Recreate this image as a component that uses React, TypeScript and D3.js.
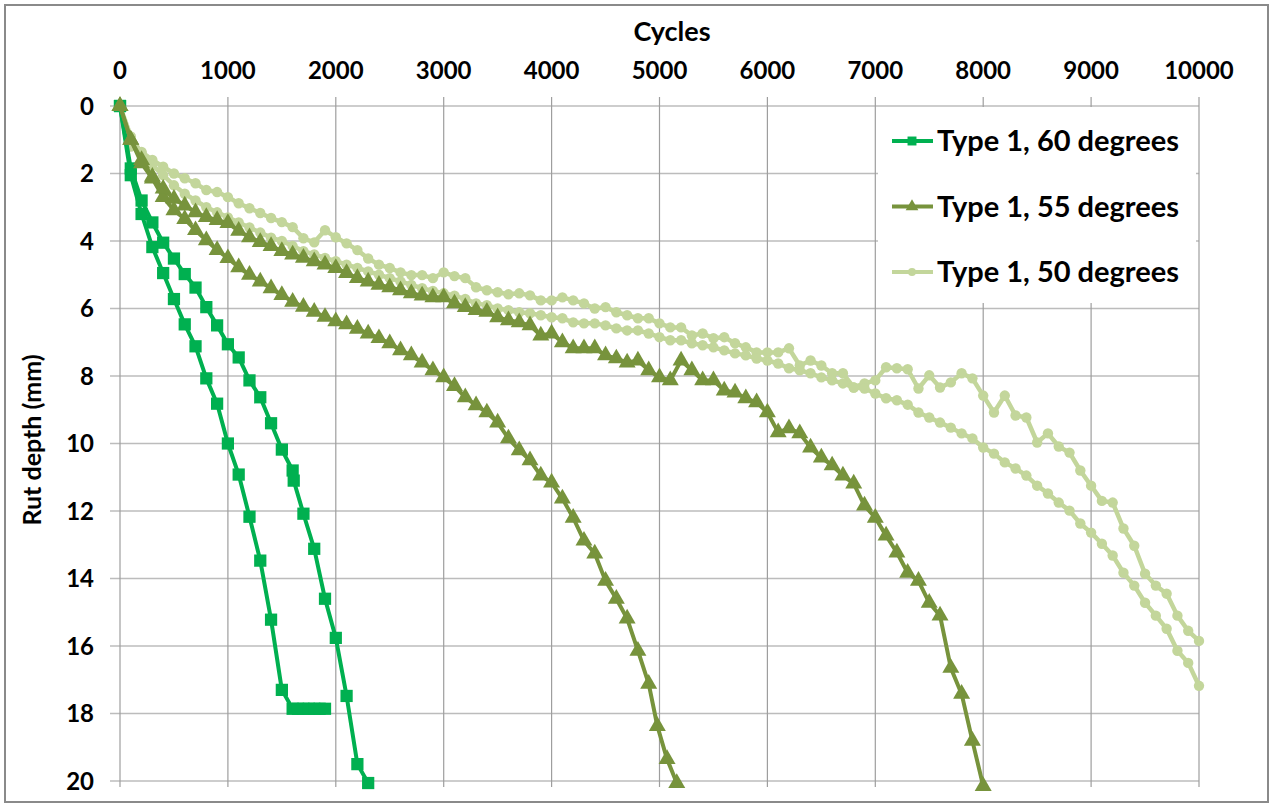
import React, { useEffect, useRef } from 'react';
import * as d3 from 'd3';

// [cycles, rut depth mm]
const type60a: [number, number][] = [
  [0, 0], [100, 2.05], [200, 3.2], [300, 4.18], [400, 4.95], [500, 5.72], [600, 6.47],
  [700, 7.12], [800, 8.07], [900, 8.82], [1000, 10.0], [1100, 10.92], [1200, 12.17],
  [1300, 13.47], [1400, 15.22], [1500, 17.3], [1600, 17.86], [1650, 17.86], [1700, 17.86],
  [1750, 17.86], [1800, 17.86], [1850, 17.86], [1900, 17.86],
];
const type60b: [number, number][] = [
  [0, 0], [100, 1.85], [200, 2.8], [300, 3.45], [400, 4.05], [500, 4.52], [600, 4.98],
  [700, 5.38], [800, 5.96], [900, 6.5], [1000, 7.06], [1100, 7.45], [1200, 8.13],
  [1300, 8.63], [1400, 9.4], [1500, 10.18], [1600, 10.8], [1610, 11.1], [1700, 12.08],
  [1800, 13.12], [1900, 14.6], [2000, 15.76], [2100, 17.48], [2200, 19.5], [2300, 20.06],
];
const type55a: [number, number][] = [
  [0, 0], [100, 1.0], [200, 1.7], [300, 2.15], [400, 2.7], [500, 3.09], [600, 3.35],
  [700, 3.68], [800, 3.98], [900, 4.27], [1000, 4.51], [1100, 4.78], [1200, 5.0],
  [1300, 5.2], [1400, 5.4], [1500, 5.6], [1600, 5.8], [1700, 5.95], [1800, 6.1],
  [1900, 6.25], [2000, 6.38], [2100, 6.47], [2200, 6.6], [2300, 6.74], [2400, 6.88],
  [2500, 7.03], [2600, 7.24], [2700, 7.39], [2800, 7.6], [2900, 7.83], [3000, 8.04],
  [3100, 8.3], [3200, 8.63], [3300, 8.87], [3400, 9.08], [3500, 9.38], [3600, 9.85],
  [3700, 10.2], [3800, 10.5], [3900, 10.95], [4000, 11.16], [4100, 11.63], [4200, 12.2],
  [4300, 12.88], [4400, 13.26], [4500, 14.07], [4600, 14.6], [4700, 15.19], [4800, 16.14],
  [4900, 17.12], [4980, 18.37], [5070, 19.35], [5160, 20.06],
];
const type55b: [number, number][] = [
  [0, 0], [100, 1.0], [200, 1.6], [300, 2.1], [400, 2.45], [500, 2.75], [600, 2.95],
  [700, 3.15], [800, 3.29], [900, 3.38], [1000, 3.47], [1100, 3.7], [1200, 3.89],
  [1300, 4.03], [1400, 4.15], [1500, 4.3], [1600, 4.4], [1700, 4.5], [1800, 4.6],
  [1900, 4.7], [2000, 4.8], [2100, 4.95], [2200, 5.1], [2300, 5.2], [2400, 5.3],
  [2500, 5.37], [2600, 5.46], [2700, 5.55], [2800, 5.62], [2900, 5.67], [3000, 5.67],
  [3100, 5.85], [3200, 5.96], [3300, 6.05], [3400, 6.1], [3500, 6.26], [3600, 6.35],
  [3700, 6.41], [3800, 6.5], [3900, 6.8], [4000, 6.74], [4100, 7.0], [4200, 7.18],
  [4300, 7.18], [4400, 7.18], [4500, 7.39], [4600, 7.48], [4700, 7.6], [4800, 7.54],
  [4900, 7.83], [5000, 8.04], [5100, 8.13], [5200, 7.54], [5300, 7.83], [5400, 8.13],
  [5500, 8.13], [5600, 8.43], [5700, 8.49], [5800, 8.66], [5900, 8.78], [6000, 9.08],
  [6100, 9.67], [6200, 9.55], [6300, 9.7], [6400, 10.12], [6500, 10.42], [6600, 10.65],
  [6700, 10.95], [6800, 11.19], [6900, 11.84], [7000, 12.2], [7100, 12.73], [7200, 13.23],
  [7300, 13.83], [7400, 14.07], [7500, 14.72], [7600, 15.1], [7700, 16.65], [7800, 17.42],
  [7900, 18.81], [8000, 20.15],
];
const type50a: [number, number][] = [
  [0, 0], [100, 1.2], [200, 1.36], [300, 1.6], [400, 1.8], [500, 2.0], [600, 2.14],
  [700, 2.29], [800, 2.49], [900, 2.55], [1000, 2.7], [1100, 2.88], [1200, 3.03],
  [1300, 3.17], [1400, 3.32], [1500, 3.44], [1600, 3.59], [1700, 3.92], [1800, 4.04],
  [1900, 3.68], [2000, 3.89], [2100, 4.07], [2200, 4.27], [2300, 4.52], [2400, 4.7],
  [2500, 4.8], [2600, 4.93], [2700, 5.01], [2800, 5.01], [2900, 5.1], [3000, 4.93],
  [3100, 5.04], [3200, 5.1], [3300, 5.37], [3400, 5.46], [3500, 5.52], [3600, 5.58],
  [3700, 5.55], [3800, 5.61], [3900, 5.76], [4000, 5.76], [4100, 5.67], [4200, 5.76],
  [4300, 5.85], [4400, 6.0], [4500, 5.96], [4600, 6.11], [4700, 6.2], [4800, 6.29],
  [4900, 6.29], [5000, 6.44], [5100, 6.56], [5200, 6.56], [5300, 6.8], [5400, 6.74],
  [5500, 6.88], [5600, 6.85], [5700, 7.03], [5800, 7.15], [5900, 7.3], [6000, 7.3],
  [6100, 7.3], [6200, 7.18], [6300, 7.69], [6400, 7.54], [6500, 7.69], [6600, 7.92],
  [6700, 7.92], [6800, 8.34], [6900, 8.22], [7000, 8.13], [7100, 7.74], [7200, 7.77],
  [7300, 7.8], [7400, 8.37], [7500, 7.98], [7600, 8.34], [7700, 8.19], [7800, 7.92],
  [7900, 8.07], [8000, 8.58], [8100, 9.08], [8200, 8.58], [8300, 9.17], [8400, 9.23],
  [8500, 9.97], [8600, 9.7], [8700, 10.09], [8800, 10.27], [8900, 10.8], [9000, 11.25],
  [9100, 11.7], [9200, 11.75], [9300, 12.52], [9400, 13.03], [9500, 13.86], [9600, 14.21],
  [9700, 14.45], [9800, 15.1], [9900, 15.55], [10000, 15.85],
];
const type50b: [number, number][] = [
  [0, 0], [100, 0.9], [200, 1.4], [300, 1.75], [400, 2.05], [500, 2.35], [600, 2.6],
  [700, 2.8], [800, 3.0], [900, 3.15], [1000, 3.3], [1100, 3.45], [1200, 3.6],
  [1300, 3.75], [1400, 3.9], [1500, 4.0], [1600, 4.15], [1700, 4.3], [1800, 4.4],
  [1900, 4.5], [2000, 4.6], [2100, 4.7], [2200, 4.8], [2300, 4.9], [2400, 5.0],
  [2500, 5.1], [2600, 5.2], [2700, 5.3], [2800, 5.4], [2900, 5.48], [3000, 5.55],
  [3100, 5.62], [3200, 5.72], [3300, 5.85], [3400, 5.9], [3500, 6.0], [3600, 6.05],
  [3700, 6.11], [3800, 6.14], [3900, 6.2], [4000, 6.26], [4100, 6.29], [4200, 6.41],
  [4300, 6.44], [4400, 6.44], [4500, 6.5], [4600, 6.59], [4700, 6.65], [4800, 6.65],
  [4900, 6.74], [5000, 6.85], [5100, 6.94], [5200, 6.94], [5300, 7.03], [5400, 7.09],
  [5500, 7.15], [5600, 7.24], [5700, 7.33], [5800, 7.39], [5900, 7.48], [6000, 7.54],
  [6100, 7.63], [6200, 7.77], [6300, 7.83], [6400, 7.92], [6500, 8.04], [6600, 8.13],
  [6700, 8.22], [6800, 8.34], [6900, 8.37], [7000, 8.52], [7100, 8.66], [7200, 8.72],
  [7300, 8.85], [7400, 9.08], [7500, 9.23], [7600, 9.38], [7700, 9.53], [7800, 9.7],
  [7900, 9.85], [8000, 10.12], [8100, 10.3], [8200, 10.56], [8300, 10.74], [8400, 10.95],
  [8500, 11.25], [8600, 11.48], [8700, 11.75], [8800, 11.99], [8900, 12.37], [9000, 12.64],
  [9100, 12.97], [9200, 13.32], [9300, 13.83], [9400, 14.21], [9500, 14.72], [9600, 15.1],
  [9700, 15.49], [9800, 16.14], [9900, 16.5], [10000, 17.18],
];

const legendLabels = ['Type 1, 60 degrees', 'Type 1, 55 degrees', 'Type 1, 50 degrees'];
const xTicks = [0, 1000, 2000, 3000, 4000, 5000, 6000, 7000, 8000, 9000, 10000];
const yTicks = [0, 2, 4, 6, 8, 10, 12, 14, 16, 18, 20];

const W = 1274, H = 807;
const FONT = 'Lato, "Open Sans", sans-serif';

function App() {
  const ref = useRef<SVGSVGElement>(null);

  useEffect(() => {
    const svg = d3.select(ref.current);
    svg.selectAll('*').remove();

    const x = d3.scaleLinear().domain([0, 10000]).range([120, 1199]);
    const y = d3.scaleLinear().domain([0, 20]).range([106, 781]);

    svg.append('rect').attr('width', W).attr('height', H).attr('fill', '#fff');
    svg.append('rect')
      .attr('x', 5).attr('y', 5).attr('width', 1263).attr('height', 797)
      .attr('fill', 'none').attr('stroke', '#8a8a8a').attr('stroke-width', 2);

    // grid
    const grid = svg.append('g');
    grid.selectAll('line.h').data(yTicks).join('line')
      .attr('x1', 110).attr('x2', x(10000))
      .attr('y1', d => y(d)).attr('y2', d => y(d))
      .attr('stroke', '#bcbcbc').attr('stroke-width', 1.5);
    grid.selectAll('line.v').data(xTicks).join('line')
      .attr('x1', d => x(d)).attr('x2', d => x(d))
      .attr('y1', 97).attr('y2', 787)
      .attr('stroke', '#9e9e9e').attr('stroke-width', 1.2);

    // axis labels
    svg.append('g')
      .attr('font-family', FONT).attr('font-weight', 700).attr('font-size', 24)
      .attr('text-anchor', 'middle').attr('fill', '#000')
      .selectAll('text').data(xTicks).join('text')
      .attr('x', d => x(d)).attr('y', 79)
      .text(d => d);
    svg.append('g')
      .attr('font-family', FONT).attr('font-weight', 700).attr('font-size', 24)
      .attr('text-anchor', 'end').attr('fill', '#000')
      .selectAll('text').data(yTicks).join('text')
      .attr('x', 94).attr('y', d => y(d) + 8.5)
      .text(d => d);

    svg.append('text')
      .attr('x', 672).attr('y', 41)
      .attr('font-family', FONT).attr('font-weight', 700).attr('font-size', 27)
      .attr('text-anchor', 'middle').text('Cycles');
    svg.append('text')
      .attr('transform', `translate(41,440) rotate(-90)`)
      .attr('font-family', FONT).attr('font-weight', 700).attr('font-size', 25)
      .attr('text-anchor', 'middle').text('Rut depth (mm)');

    const line = d3.line<[number, number]>().x(d => x(d[0])).y(d => y(d[1]));
    const sq = d3.symbol().type(d3.symbolSquare).size(150)();
    const tri = d3.symbol().type(d3.symbolTriangle).size(125)();
    const circ = d3.symbol().type(d3.symbolCircle).size(85)();

    const series = [
      { data: type50a, color: '#c3d69b', shape: circ, w: 4.5 },
      { data: type50b, color: '#c3d69b', shape: circ, w: 4.5 },
      { data: type60a, color: '#00b050', shape: sq, w: 4 },
      { data: type60b, color: '#00b050', shape: sq, w: 4 },
      { data: type55a, color: '#77933c', shape: tri, w: 4 },
      { data: type55b, color: '#77933c', shape: tri, w: 4 },
    ];

    series.forEach(s => {
      const g = svg.append('g');
      g.append('path')
        .attr('d', line(s.data))
        .attr('fill', 'none').attr('stroke', s.color)
        .attr('stroke-width', s.w).attr('stroke-linejoin', 'round');
      g.selectAll('path.m').data(s.data).join('path')
        .attr('class', 'm')
        .attr('transform', d => `translate(${x(d[0])},${y(d[1])})`)
        .attr('d', s.shape).attr('fill', s.color);
    });

    // legend
    const lg = svg.append('g');
    lg.append('rect').attr('x', 878).attr('y', 107).attr('width', 318).attr('height', 196)
      .attr('fill', '#fff');
    const legendStyle = [
      { color: '#00b050', shape: d3.symbol().type(d3.symbolSquare).size(80)() },
      { color: '#77933c', shape: d3.symbol().type(d3.symbolTriangle).size(70)() },
      { color: '#c3d69b', shape: d3.symbol().type(d3.symbolCircle).size(50)() },
    ];
    legendLabels.forEach((label, i) => {
      const cy = 141 + i * 65.5;
      lg.append('line').attr('x1', 892).attr('x2', 933).attr('y1', cy).attr('y2', cy)
        .attr('stroke', legendStyle[i].color).attr('stroke-width', 4);
      lg.append('path').attr('transform', `translate(912,${cy})`)
        .attr('d', legendStyle[i].shape).attr('fill', legendStyle[i].color);
      lg.append('text').attr('x', 937).attr('y', cy + 10)
        .attr('font-family', FONT).attr('font-weight', 700).attr('font-size', 29)
        .text(label);
    });
  }, []);

  return (
    <svg ref={ref} width={W} height={H}
      style={{ position: 'absolute', left: 0, top: 0, display: 'block' }} />
  );
}

export default App;
